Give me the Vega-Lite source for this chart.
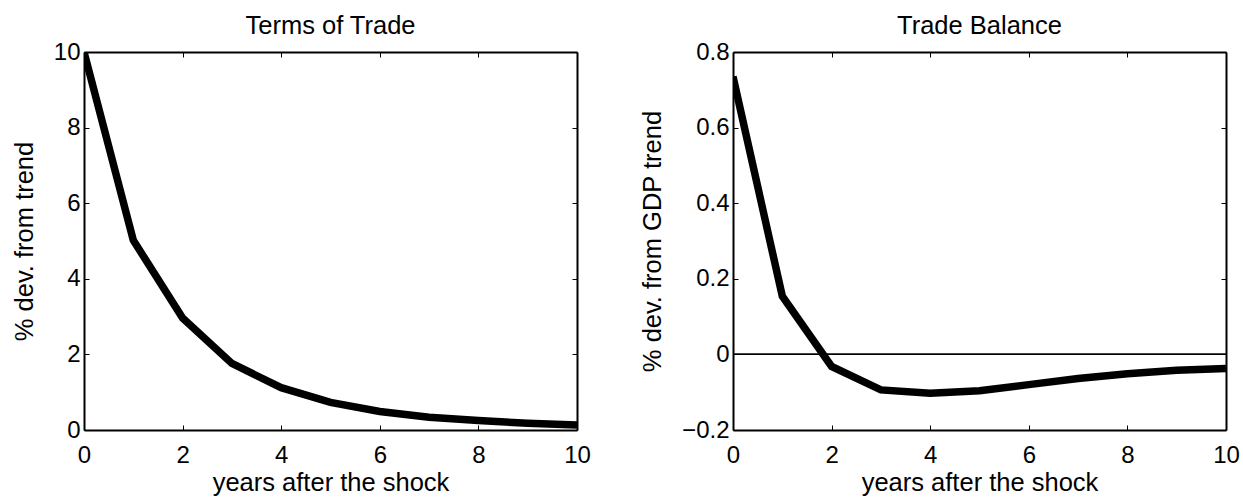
{
  "$schema": "https://vega.github.io/schema/vega-lite/v6.json",
  "padding": {"left": 12, "top": 14, "right": 0, "bottom": 0},
  "spacing": 49,
  "config": {
    "font": "Liberation Sans",
    "view": {"stroke": null},
    "axis": {
      "grid": false,
      "labelFlush": false,
      "domainColor": "black",
      "domainWidth": 2,
      "tickColor": "black",
      "tickSize": -5,
      "tickWidth": 1,
      "labelFont": "Liberation Sans",
      "labelFontSize": 24,
      "labelColor": "black",
      "titleFont": "Liberation Sans",
      "titleFontSize": 25.5,
      "titleFontWeight": "normal",
      "titleColor": "black"
    },
    "axisX": {"labelPadding": 18, "titlePadding": 3},
    "axisY": {"labelPadding": 9, "titlePadding": 16},
    "title": {"font": "Liberation Sans", "fontSize": 25.5, "fontWeight": "normal", "color": "black", "offset": 0.5}
  },
  "datasets": {
    "tot": [
      {"year": 0, "value": 10.0},
      {"year": 1, "value": 5.02},
      {"year": 2, "value": 2.96},
      {"year": 3, "value": 1.76},
      {"year": 4, "value": 1.12},
      {"year": 5, "value": 0.73},
      {"year": 6, "value": 0.49},
      {"year": 7, "value": 0.34},
      {"year": 8, "value": 0.25},
      {"year": 9, "value": 0.18},
      {"year": 10, "value": 0.13}
    ],
    "tb": [
      {"year": 0, "value": 0.735},
      {"year": 1, "value": 0.154},
      {"year": 2, "value": -0.032},
      {"year": 3, "value": -0.094},
      {"year": 4, "value": -0.103},
      {"year": 5, "value": -0.096},
      {"year": 6, "value": -0.08},
      {"year": 7, "value": -0.064},
      {"year": 8, "value": -0.051},
      {"year": 9, "value": -0.042},
      {"year": 10, "value": -0.037}
    ]
  },
  "hconcat": [
    {
      "width": 493,
      "height": 378,
      "title": "Terms of Trade",
      "data": {"name": "tot"},
      "layer": [
        {
          "mark": {"type": "line", "color": "black", "strokeWidth": 7.5, "clip": true},
          "encoding": {
            "x": {"field": "year", "type": "quantitative", "scale": {"domain": [0, 10], "nice": false},
                  "axis": {"orient": "bottom", "values": [0, 2, 4, 6, 8, 10], "format": "~f", "title": "years after the shock"}},
            "y": {"field": "value", "type": "quantitative", "scale": {"domain": [0, 10], "nice": false, "zero": false},
                  "axis": {"orient": "left", "values": [0, 2, 4, 6, 8, 10], "format": "~f", "title": "% dev. from trend"}}
          }
        },
        {
          "mark": {"type": "line", "opacity": 0},
          "encoding": {
            "x": {"field": "year", "type": "quantitative",
                  "axis": {"orient": "top", "values": [0, 2, 4, 6, 8, 10], "labels": false, "title": null}},
            "y": {"field": "value", "type": "quantitative",
                  "axis": {"orient": "right", "values": [0, 2, 4, 6, 8, 10], "labels": false, "title": null}}
          }
        }
      ],
      "resolve": {"axis": {"x": "independent", "y": "independent"}}
    },
    {
      "width": 493,
      "height": 378,
      "title": "Trade Balance",
      "data": {"name": "tb"},
      "layer": [
        {
          "mark": {"type": "line", "color": "black", "strokeWidth": 7.5, "clip": true},
          "encoding": {
            "x": {"field": "year", "type": "quantitative", "scale": {"domain": [0, 10], "nice": false},
                  "axis": {"orient": "bottom", "values": [0, 2, 4, 6, 8, 10], "format": "~f", "title": "years after the shock"}},
            "y": {"field": "value", "type": "quantitative", "scale": {"domain": [-0.2, 0.8], "nice": false, "zero": false},
                  "axis": {"orient": "left", "values": [-0.2, 0, 0.2, 0.4, 0.6, 0.8], "format": "~f", "title": "% dev. from GDP trend"}}
          }
        },
        {
          "mark": {"type": "line", "opacity": 0},
          "encoding": {
            "x": {"field": "year", "type": "quantitative",
                  "axis": {"orient": "top", "values": [0, 2, 4, 6, 8, 10], "labels": false, "title": null}},
            "y": {"field": "value", "type": "quantitative",
                  "axis": {"orient": "right", "values": [-0.2, 0, 0.2, 0.4, 0.6, 0.8], "labels": false, "title": null}}
          }
        },
        {
          "mark": {"type": "rule", "color": "black", "strokeWidth": 1},
          "encoding": {"y": {"datum": 0, "type": "quantitative", "axis": null}}
        }
      ],
      "resolve": {"axis": {"x": "independent", "y": "independent"}}
    }
  ]
}
